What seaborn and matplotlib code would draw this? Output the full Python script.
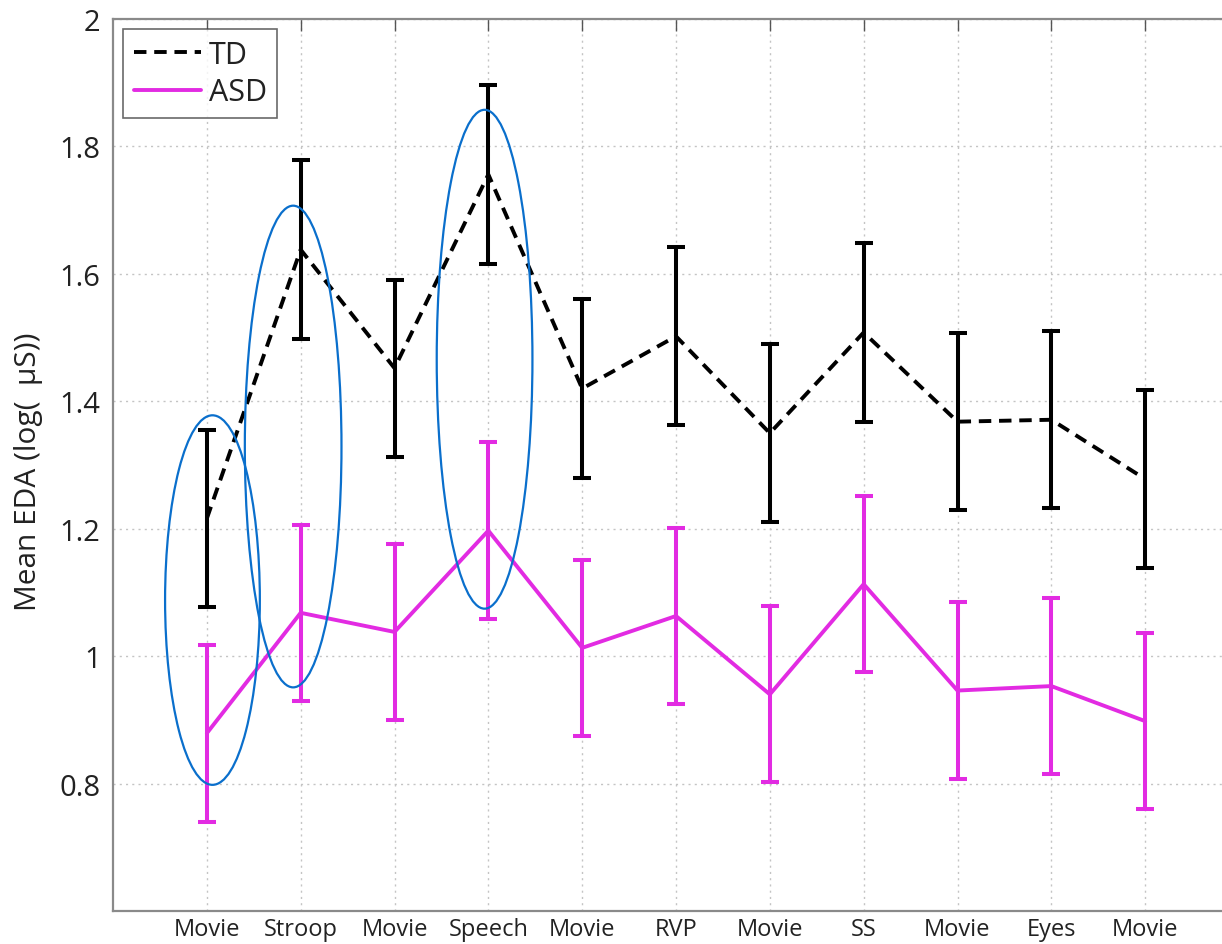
import numpy as np
import pandas as pd
import matplotlib
matplotlib.use("Agg")
import matplotlib.pyplot as plt
from matplotlib.patches import Ellipse
import seaborn as sns

# ---- data ----
conditions = ["Movie", "Stroop", "Movie", "Speech", "Movie", "RVP",
              "Movie", "SS", "Movie", "Eyes", "Movie"]
td_mean = [1.216, 1.638, 1.452, 1.756, 1.420, 1.502, 1.350, 1.508, 1.368, 1.371, 1.278]
td_err = [0.139, 0.140, 0.139, 0.140, 0.140, 0.140, 0.140, 0.140, 0.139, 0.139, 0.140]
asd_mean = [0.879, 1.068, 1.038, 1.197, 1.013, 1.063, 0.940, 1.113, 0.946, 0.953, 0.898]
asd_err = [0.139, 0.138, 0.138, 0.139, 0.138, 0.138, 0.138, 0.138, 0.139, 0.138, 0.138]
y_ticks = [0.8, 1.0, 1.2, 1.4, 1.6, 1.8, 2.0]
y_ticklabels = ["0.8", "1", "1.2", "1.4", "1.6", "1.8", "2"]
# highlight ellipses: (x centre, y centre, width, height) in data units
ell_x = [1.06, 1.92, 3.96]
ell_y = [1.088, 1.329, 1.466]
ell_w = [1.01, 1.03, 1.02]
ell_h = [0.580, 0.756, 0.783]

positions = list(range(1, len(conditions) + 1))
df = pd.DataFrame({
    "pos": positions * 2,
    "mean": td_mean + asd_mean,
    "err": td_err + asd_err,
    "group": ["TD"] * len(td_mean) + ["ASD"] * len(asd_mean),
})

sns.set_theme(style="white")
plt.rcParams["font.family"] = ["Open Sans", "DejaVu Sans"]

colors = {"TD": "black", "ASD": "#E22BE2"}

fig = plt.figure(figsize=(12.22, 9.45), dpi=100)
ax = fig.add_axes([113 / 1222, 33 / 945, 1126 / 1222, 892 / 945])

sns.lineplot(data=df, x="pos", y="mean", hue="group", style="group",
             palette=colors, dashes={"TD": (3.2, 2.0), "ASD": ""},
             linewidth=2.8, ax=ax, legend=True, zorder=3)

for g in ["TD", "ASD"]:
    sub = df[df["group"] == g]
    ax.errorbar(sub["pos"], sub["mean"], yerr=sub["err"], fmt="none",
                ecolor=colors[g], elinewidth=2.9, capsize=6.8, capthick=2.9,
                zorder=4)

for cx, cy, w, h in zip(ell_x, ell_y, ell_w, ell_h):
    ax.add_patch(Ellipse((cx, cy), w, h, fill=False, edgecolor="#0A6FCC",
                         linewidth=1.6, zorder=5))

ax.set_xlim(0, 12)
ax.set_ylim(0.6, 2.0)
ax.set_xticks(positions)
ax.set_xticklabels(conditions, fontsize=17)
ax.set_yticks(y_ticks)
ax.set_yticklabels(y_ticklabels, fontsize=21)
ax.set_xlabel("")
ax.set_ylabel("Mean EDA (log(  μS))", fontsize=21.5, color="#222222")
ax.yaxis.set_label_coords(-0.062, 0.494)

ax.grid(True, linestyle=(0, (1.5, 3)), color="#c4c4c4", linewidth=1.0)
ax.tick_params(axis="both", direction="in", length=8.5, width=1.0,
               color="#555555", top=True, right=False, labelcolor="#222222")
ax.tick_params(axis="y", pad=9)
ax.tick_params(axis="x", pad=4)
for s in ax.spines.values():
    s.set_color("#8a8a8a")
    s.set_linewidth(1.6)
ax.spines["right"].set_visible(False)

leg = ax.legend(loc="upper left", bbox_to_anchor=(0.0089, 0.9888),
                borderaxespad=0, fontsize=22, handlelength=2.2,
                handletextpad=0.25, labelspacing=0.25, borderpad=0.35,
                fancybox=False, frameon=True)
leg.get_frame().set_edgecolor("#444444")
leg.get_frame().set_linewidth(1.2)
for t in leg.get_texts():
    t.set_color("#222222")

fig.savefig("out.png", dpi=100)
